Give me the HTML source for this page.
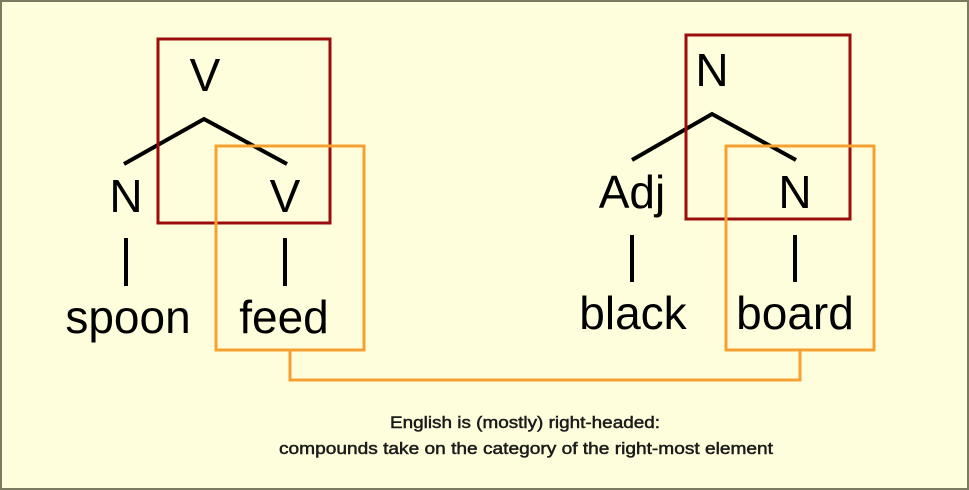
<!DOCTYPE html>
<html><head><meta charset="utf-8"><style>
html,body{margin:0;padding:0;}
body{width:969px;height:490px;overflow:hidden;background:#fffedc;}
svg{display:block;}
</style></head><body>
<svg width="969" height="490" viewBox="0 0 969 490" xmlns="http://www.w3.org/2000/svg">
<rect x="1" y="1" width="967" height="488" fill="#fffedc" stroke="#7b7b62" stroke-width="2"/>
<g font-family="Liberation Sans, Arial, sans-serif" font-size="46" fill="#000" text-anchor="middle">
<text x="205" y="91">V</text>
<text x="126" y="212">N</text>
<text x="285" y="212">V</text>
<text x="128" y="333">spoon</text>
<text x="284" y="333">feed</text>
<text x="712" y="86">N</text>
<text x="632" y="208">Adj</text>
<text x="795" y="208">N</text>
<text x="633" y="329">black</text>
<text x="795" y="329">board</text>
</g>
<g stroke="#000" stroke-width="4" fill="none">
<polyline points="124,164 204,119 287,164"/>
<line x1="126" y1="238" x2="126" y2="286"/>
<line x1="285" y1="238" x2="285" y2="286"/>
<polyline points="632,160 712,114 796,160"/>
<line x1="632" y1="235" x2="632" y2="282"/>
<line x1="795" y1="235" x2="795" y2="282"/>
</g>
<g fill="none" stroke-width="3">
<rect x="158" y="39" width="172" height="184" stroke="#9b0d0d"/>
<rect x="686" y="35" width="164" height="184" stroke="#9b0d0d"/>
<rect x="216" y="146" width="148" height="204" stroke="#f5a030"/>
<rect x="726" y="146" width="148" height="204" stroke="#f5a030"/>
<polyline points="290,350 290,380 800,380 800,350" stroke="#f5a030"/>
</g>
<g font-family="Liberation Sans, Arial, sans-serif" font-size="17" fill="#1a1a1a" stroke="#1a1a1a" stroke-width="0.5" text-anchor="middle">
<text x="525" y="428" textLength="270" lengthAdjust="spacingAndGlyphs">English is (mostly) right-headed:</text>
<text x="526" y="454" textLength="494" lengthAdjust="spacingAndGlyphs">compounds take on the category of the right-most element</text>
</g>
</svg>
</body></html>
